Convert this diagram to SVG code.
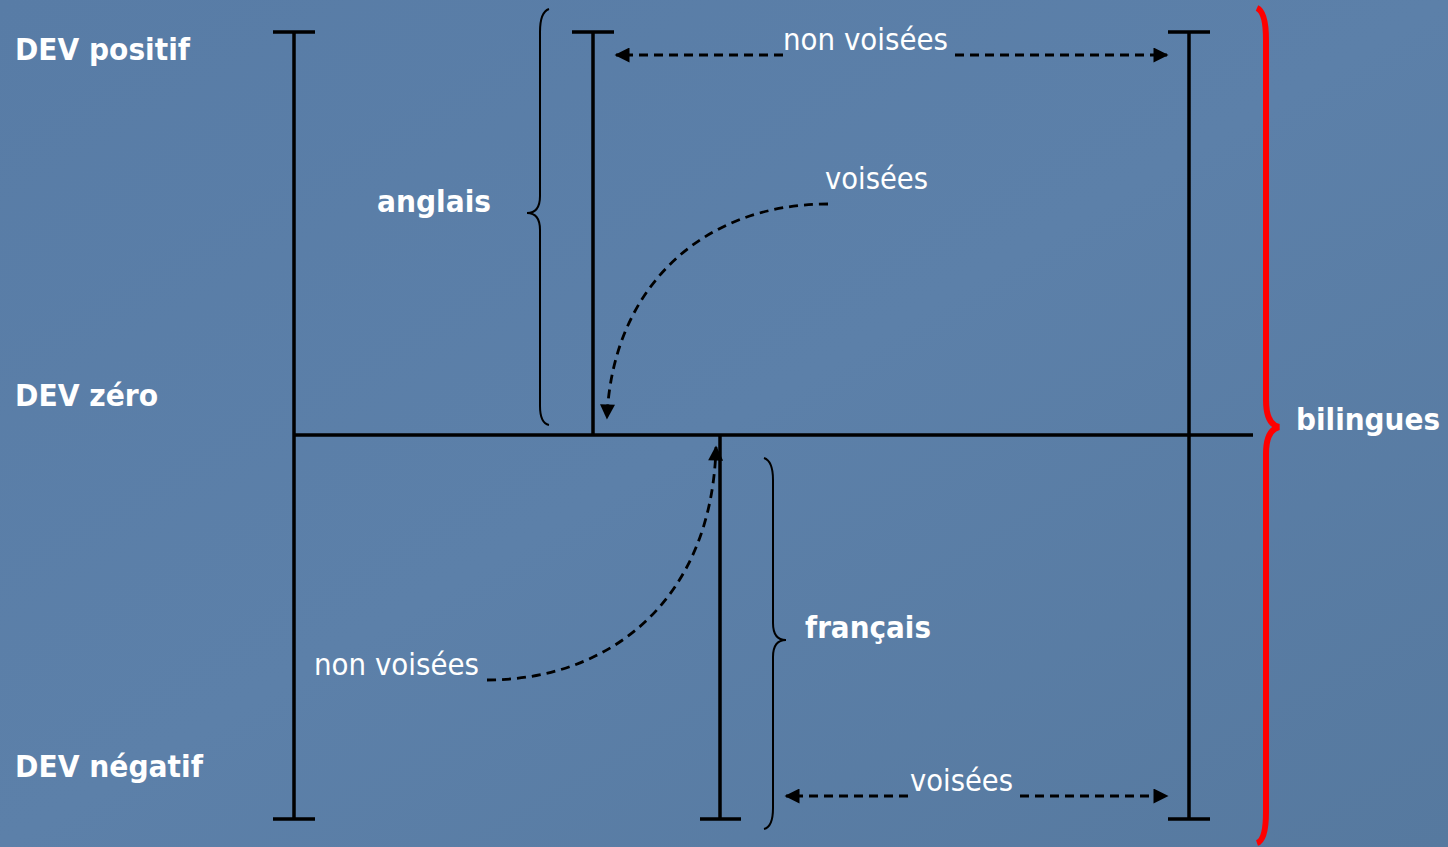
<svg xmlns="http://www.w3.org/2000/svg" width="1448" height="847" viewBox="0 0 1448 847">
<defs>
<linearGradient id="bg" x1="0" y1="0" x2="1" y2="1">
<stop offset="0" stop-color="#587ca6"/>
<stop offset="0.5" stop-color="#5c80a9"/>
<stop offset="1" stop-color="#56799f"/>
</linearGradient>
<marker id="ah" viewBox="0 0 10 10" refX="9" refY="5" markerWidth="16" markerHeight="15" markerUnits="userSpaceOnUse" orient="auto">
<path d="M0,0 L10,5 L0,10 z" fill="#000"/>
</marker>
</defs>
<style>
.axis{stroke:#000;stroke-width:3.5;fill:none}
.thin{stroke:#000;stroke-width:2;fill:none}
.dash{stroke:#000;stroke-width:2.8;fill:none;stroke-dasharray:9,6}
.b{font-family:"DejaVu Sans",Verdana,sans-serif;font-weight:bold;font-size:30px;fill:#fff}
.r{font-family:"DejaVu Sans",Verdana,sans-serif;font-size:30px;fill:#fff}
</style>
<rect width="1448" height="847" fill="url(#bg)"/>

<g id="axes">
<path class="axis" d="M294,32 V819 M273,32 H315 M273,819 H315"/>
<path class="axis" d="M294,435 H1253"/>
<path class="axis" d="M593,32 V435 M572,32 H614"/>
<path class="axis" d="M720,435 V819 M700,819 H741"/>
<path class="axis" d="M1189,32 V819 M1168,32 H1210 M1168,819 H1210"/>
</g>

<g id="braces">
<path class="thin" d="M549,9 Q540,12 540,32 L540,196 Q540,213 527,213 Q540,213 540,230 L540,406 Q540,423 549,425"/>
<path class="thin" d="M764,458 Q773,461 773,480 L773,623 Q773,640 786,640 Q773,640 773,657 L773,808 Q773,827 764,829"/>
<path d="M1257,8 Q1266,12 1266,40 L1266,400 Q1266,424 1279,427 Q1266,430 1266,454 L1266,812 Q1266,840 1257,843" stroke="#ff0000" stroke-width="6" fill="none"/>
</g>

<g id="connectors">
<path class="dash" d="M783,55 H616" marker-end="url(#ah)"/>
<path class="dash" d="M955,55 H1167" marker-end="url(#ah)"/>
<path class="dash" d="M908,796 H786" marker-end="url(#ah)"/>
<path class="dash" d="M1020,796 H1167" marker-end="url(#ah)"/>
<path class="dash" d="M828,204 C700,204 612,290 607,418" marker-end="url(#ah)"/>
<path class="dash" d="M487,680 C610,680 712,600 716,447" marker-end="url(#ah)"/>
</g>

<g id="labels">
<text class="b" x="15" y="60" textLength="175" lengthAdjust="spacingAndGlyphs">DEV positif</text>
<text class="b" x="15" y="406" textLength="143" lengthAdjust="spacingAndGlyphs">DEV zéro</text>
<text class="b" x="15" y="777" textLength="188" lengthAdjust="spacingAndGlyphs">DEV négatif</text>
<text class="b" x="377" y="212" textLength="114" lengthAdjust="spacingAndGlyphs">anglais</text>
<text class="b" x="805" y="638" textLength="126" lengthAdjust="spacingAndGlyphs">français</text>
<text class="b" x="1296" y="430" textLength="144" lengthAdjust="spacingAndGlyphs">bilingues</text>
<text class="r" x="783" y="50" textLength="165" lengthAdjust="spacingAndGlyphs">non voisées</text>
<text class="r" x="825" y="189" textLength="103" lengthAdjust="spacingAndGlyphs">voisées</text>
<text class="r" x="314" y="675" textLength="165" lengthAdjust="spacingAndGlyphs">non voisées</text>
<text class="r" x="910" y="791" textLength="103" lengthAdjust="spacingAndGlyphs">voisées</text>
</g>
</svg>
